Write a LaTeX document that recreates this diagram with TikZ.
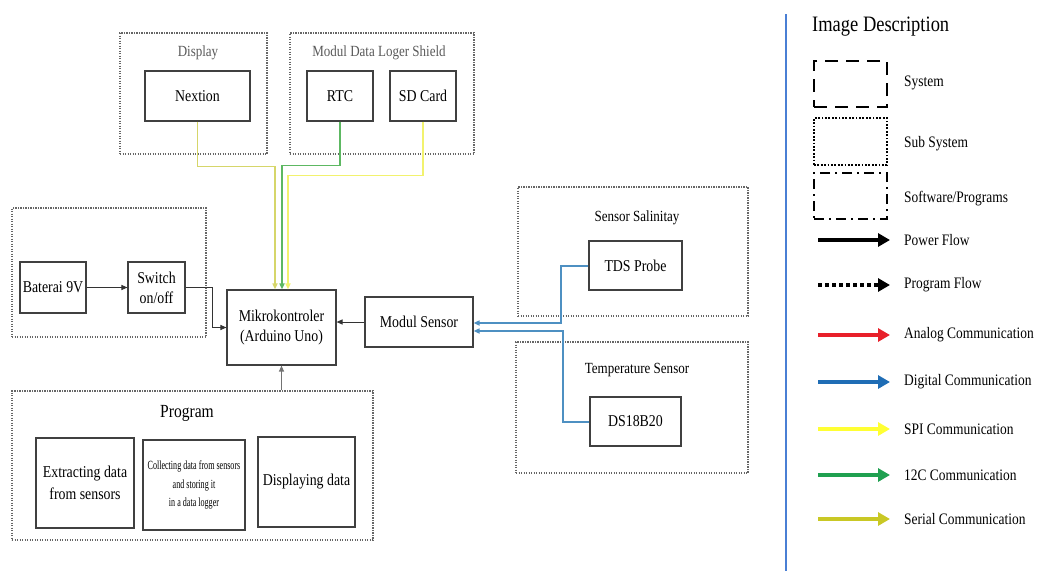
\documentclass[tikz,border=0pt]{standalone}
\usepackage{fontspec}
\setmainfont{Liberation Serif}[FakeStretch=0.84]
\usepackage{xcolor}
\usepackage{tikz}
\usetikzlibrary{positioning,arrows.meta}

\definecolor{serline}{HTML}{D6D66A}
\definecolor{spiline}{HTML}{F2F26E}
\definecolor{i2cline}{HTML}{5DB862}
\definecolor{digline}{HTML}{4E90C2}
\definecolor{anared}{HTML}{E8202A}
\definecolor{digblue}{HTML}{1F6DB5}
\definecolor{spiyel}{HTML}{FFFF33}
\definecolor{i2cgrn}{HTML}{1FA050}
\definecolor{serol}{HTML}{C9C825}
\definecolor{divblue}{HTML}{4A7FD4}

\begin{document}
\begin{tikzpicture}[
  x=1pt, y=-1pt,
  blk/.style={draw=black!75, line width=1.1pt, align=center, inner sep=2pt, font=\fontsize{16.5}{20}\selectfont},
  grp/.style={draw=black!60, line width=1.5pt, dash pattern=on 1.2pt off 1.3pt, inner sep=0pt},
  grptitle/.style={font=\fontsize{15.5}{18}\selectfont, inner sep=1pt},
  leglbl/.style={anchor=west, font=\fontsize{16}{18}\selectfont, inner sep=0pt},
  tip/.style={-{Triangle[length=6pt,width=5pt]}},
  wire/.style={line width=1.6pt, tip}
]
\useasboundingbox (0,0) rectangle (1042,571);

\node[grp, minimum width=147, minimum height=121] (dispgrp) at (193.5,93.5) {};
\node[grptitle, text=black!65] (disptitle) at (198,53) {Display};
\node[blk, minimum width=105, minimum height=50] (nextion) at (197.5,96) {Nextion};

\node[grp, minimum width=184, minimum height=121] (shieldgrp) at (382,93.5) {};
\node[grptitle, text=black!65] (shieldtitle) at (379,53) {Modul Data Loger Shield};
\node[blk, minimum width=66, minimum height=50] (rtc) at (340,96) {RTC};
\node[blk, minimum width=66, minimum height=50] (sd) at (423,96) {SD Card};

\node[grp, minimum width=194, minimum height=129] (pwrgrp) at (109,272.5) {};
\node[blk, minimum width=66, minimum height=51] (bat) at (53,287.5) {Baterai 9V};
\node[blk, minimum width=57, minimum height=51] (sw) at (156.5,287.5) {Switch\\on/off};

\node[blk, minimum width=109, minimum height=75] (mikro) at (281.5,327.5) {Mikrokontroler\\(Arduino Uno)};
\node[blk, minimum width=108, minimum height=50] (modsen) at (419,322) {Modul Sensor};

\node[grp, minimum width=230, minimum height=129] (salgrp) at (633,251.5) {};
\node[grptitle] (saltitle) at (637,218) {Sensor Salinitay};
\node[blk, minimum width=93, minimum height=49] (tds) at (635.5,265.5) {TDS Probe};

\node[grp, minimum width=232, minimum height=131] (tempgrp) at (632,407.5) {};
\node[grptitle] (temptitle) at (637,370) {Temperature Sensor};
\node[blk, minimum width=91, minimum height=49] (ds) at (635.5,421.5) {DS18B20};

\node[grp, minimum width=361, minimum height=149] (proggrp) at (192.5,465.5) {};
\node[grptitle, font=\fontsize{18.5}{22}\selectfont] (progtitle) at (187,413) {Program};
\node[blk, minimum width=98, minimum height=90, font=\fontsize{16.5}{22}\selectfont] (extract) at (85,483) {Extracting data\\from sensors};
\node[blk, minimum width=102, minimum height=90, font=\fontsize{12.5}{18.5}\selectfont] (collect) at (194,485)
  {\scalebox{0.77}[1]{Collecting data from sensors}\\\scalebox{0.77}[1]{and storing it}\\\scalebox{0.77}[1]{in a data logger}};
\node[blk, minimum width=97, minimum height=90] (showdata) at (306.5,482) {Displaying data};

\draw[black!80, line width=1pt, tip] (bat) -- (sw);
\draw[black!80, line width=1pt, tip] (sw.east) -- ++(27,0) |- (mikro.west);
\draw[black!80, line width=1pt, tip] (modsen.west) -- (modsen.west -| mikro.east);
\draw[black!55, line width=1.2pt, tip] (proggrp.north -| mikro.south) -- (mikro.south);

\draw[wire, serline] (nextion.south) -- ++(0,45) -| ([xshift=-6.5]mikro.north);
\draw[wire, i2cline] (rtc.south) -- ++(0,44) -| ([xshift=0.5]mikro.north);
\draw[wire, spiline] (sd.south) -- ++(0,54) -| ([xshift=6.5]mikro.north);

\draw[wire, digline, line width=2pt] (tds.west) -- ++(-27,0) |- ([yshift=-1]modsen.east);
\draw[wire, digline, line width=2pt] (ds.west) -- ++(-26,0) |- ([yshift=-9]modsen.east);

\draw[divblue, line width=1.5pt] (786,14) -- (786,571);
\node[anchor=west, font=\fontsize{22}{26}\selectfont, inner sep=0pt] (legtitle) at (812,27) {Image Description};

\node[draw, line width=2pt, dash pattern=on 13pt off 8pt, minimum width=73, minimum height=46] (legsys) at (850.5,84) {};
\node[leglbl] (legsyslbl) at (904,83) {System};
\node[draw, line width=1.8pt, dash pattern=on 1.8pt off 1.6pt, minimum width=73, minimum height=47] (legsub) at (850.5,141.5) {};
\node[leglbl] (legsublbl) at (904,144) {Sub System};
\node[draw, line width=2pt, dash pattern=on 10pt off 5pt on 2pt off 5pt, minimum width=73, minimum height=46] (legsoft) at (850.5,196) {};
\node[leglbl] (legsoftlbl) at (904,199) {Software/Programs};

\node[leglbl] (legpwr) at (904,240) {Power Flow};
\draw[line width=4pt, -{Triangle[length=12pt,width=13pt]}] ([xshift=-86]legpwr.west) -- ([xshift=-14]legpwr.west);
\node[leglbl] (legprog) at (904,285) {Program Flow};
\draw[line width=4pt, dash pattern=on 4pt off 3pt, -{Triangle[length=12pt,width=13pt]}] ([xshift=-86]legprog.west) -- ([xshift=-14]legprog.west);

\foreach \yy/\cc/\txt/\nn in {335/anared/Analog Communication/legana, 382/digblue/Digital Communication/legdig, 429/spiyel/SPI Communication/legspi, 475/i2cgrn/12C Communication/legitc, 519/serol/Serial Communication/legser}{
  \node[leglbl] (\nn) at (904,\yy) {\txt};
  \draw[line width=4.5pt, \cc, -{Triangle[length=12pt,width=13pt]}] ([xshift=-86]\nn.west) -- ([xshift=-14]\nn.west);
}
\end{tikzpicture}
\end{document}
